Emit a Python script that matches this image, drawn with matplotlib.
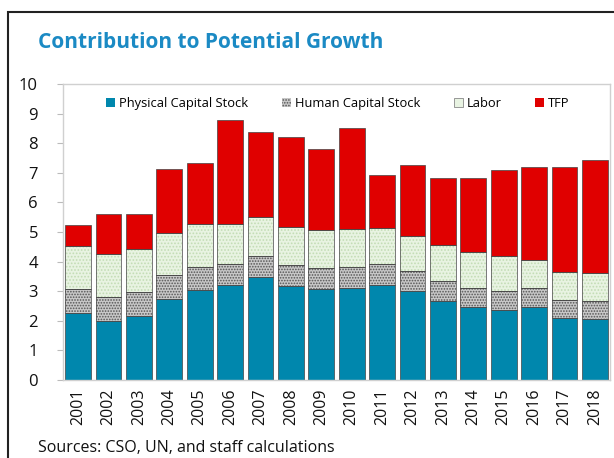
import matplotlib
matplotlib.use("Agg")
import matplotlib.pyplot as plt
from matplotlib.patches import Rectangle, Patch
import numpy as np

plt.rcParams['font.family'] = ['Open Sans', 'DejaVu Sans']
plt.rcParams['hatch.linewidth'] = 0.8

years = [str(y) for y in range(2001, 2019)]
physical = [2.25, 1.99, 2.17, 2.74, 3.03, 3.21, 3.48, 3.18, 3.06, 3.12, 3.21, 3.01, 2.67, 2.47, 2.36, 2.47, 2.08, 2.05]
human = [0.81, 0.80, 0.79, 0.80, 0.80, 0.71, 0.71, 0.71, 0.71, 0.71, 0.70, 0.67, 0.69, 0.64, 0.65, 0.64, 0.63, 0.62]
labor = [1.47, 1.47, 1.48, 1.43, 1.43, 1.34, 1.32, 1.29, 1.29, 1.27, 1.21, 1.20, 1.19, 1.20, 1.19, 0.94, 0.95, 0.95]
tfp = [0.72, 1.36, 1.16, 2.16, 2.06, 3.54, 2.86, 3.03, 2.73, 3.42, 1.82, 2.40, 2.29, 2.52, 2.91, 3.16, 3.53, 3.80]

W, H = 614, 458
fig = plt.figure(figsize=(W/100, H/100), dpi=100)

# outer frame
fig.patches.append(Rectangle((8/W, -0.1), 1.0, 1 - 12/H + 0.1, transform=fig.transFigure,
                             fill=False, edgecolor='#222222', linewidth=1.5))

ax = fig.add_axes([63/W, 1 - 380/H, 547/W, 296/H])
x = np.arange(len(years))
wdt = 0.85
p = np.array(physical); h = np.array(human); l = np.array(labor); t = np.array(tfp)

ax.bar(x, p, wdt, color='#0087ad', edgecolor='#444444', linewidth=0.5, zorder=2)
ax.bar(x, h, wdt, bottom=p, facecolor='#c8c8c8', edgecolor='#555555', hatch='......', linewidth=0, zorder=2)
ax.bar(x, h, wdt, bottom=p, fill=False, edgecolor='#444444', linewidth=0.5, zorder=3)
ax.bar(x, l, wdt, bottom=p + h, facecolor='#e8f3e2', edgecolor='#c2dcb5', hatch='.....', linewidth=0, zorder=2)
ax.bar(x, l, wdt, bottom=p + h, fill=False, edgecolor='#444444', linewidth=0.5, zorder=3)
ax.bar(x, t, wdt, bottom=p + h + l, color='#e00000', edgecolor='#444444', linewidth=0.5, zorder=2)

ax.set_xlim(-0.5, len(years) - 0.5)
ax.set_ylim(0, 10)
ax.set_yticks(range(0, 11))
ax.set_xticks(x)
ax.set_xticklabels(years, rotation=90, fontsize=11.5, color='#111111')
ax.tick_params(axis='y', labelsize=12, length=4, color='#bbbbbb', pad=14, labelcolor='#111111')
ax.tick_params(axis='x', length=0, pad=6)
for s in ax.spines.values():
    s.set_color('#d0d0d0')
    s.set_linewidth(1.0)

handles = [
    Patch(facecolor='#0087ad', edgecolor='none', label='Physical Capital Stock'),
    Patch(facecolor='#c8c8c8', edgecolor='#555555', hatch='......', linewidth=0, label='Human Capital Stock'),
    Patch(facecolor='#e8f3e2', edgecolor='#888888', linewidth=0.6, label='Labor'),
    Patch(facecolor='#e00000', edgecolor='none', label='TFP'),
]
ax.legend(handles=handles, loc='upper center', bbox_to_anchor=(0.503, 1.0), ncol=4, frameon=False,
          fontsize=9.3, handlelength=0.7, handleheight=0.7, handletextpad=0.3, columnspacing=2.6,
          borderaxespad=0.6)

fig.text(38/W, 1 - 42/H, 'Contribution to Potential Growth', fontsize=15, fontweight='bold',
         color='#1b8ac4', va='center', ha='left')
fig.text(38/W, 1 - 448/H, 'Sources: CSO, UN, and staff calculations', fontsize=11.5,
         color='#111111', va='center', ha='left')

fig.savefig('out.png', dpi=100)
